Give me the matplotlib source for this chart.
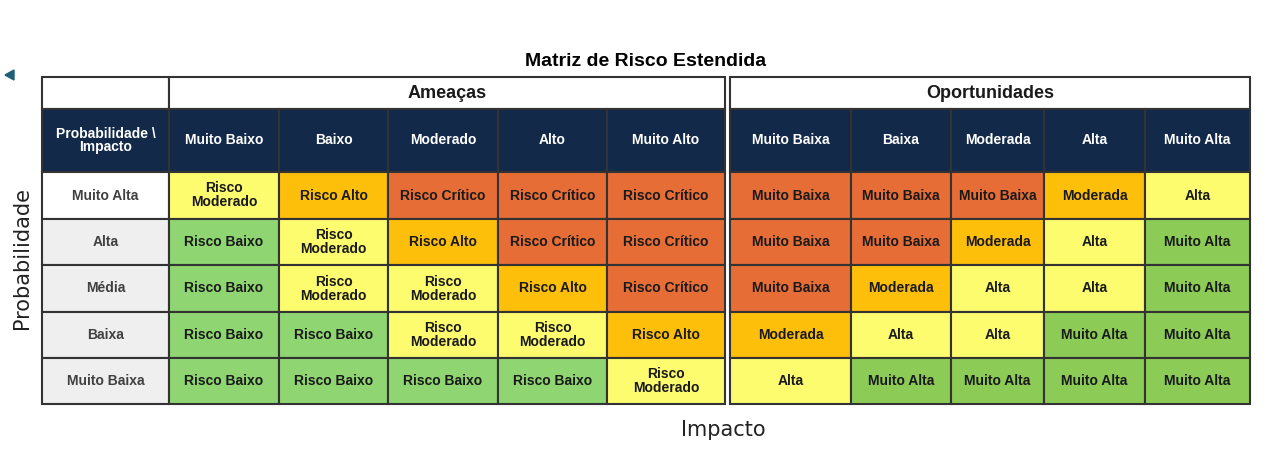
import matplotlib
matplotlib.use("Agg")
import matplotlib.pyplot as plt
from matplotlib.patches import Rectangle, Polygon

title = "Matriz de Risco Estendida"
corner = "Probabilidade \\\nImpacto"
threat_cols = ["Muito Baixo", "Baixo", "Moderado", "Alto", "Muito Alto"]
opp_cols = ["Muito Baixa", "Baixa", "Moderada", "Alta", "Muito Alta"]
rows = ["Muito Alta", "Alta", "Média", "Baixa", "Muito Baixa"]
threats = [
    ["Risco\nModerado", "Risco Alto", "Risco Crítico", "Risco Crítico", "Risco Crítico"],
    ["Risco Baixo", "Risco\nModerado", "Risco Alto", "Risco Crítico", "Risco Crítico"],
    ["Risco Baixo", "Risco\nModerado", "Risco\nModerado", "Risco Alto", "Risco Crítico"],
    ["Risco Baixo", "Risco Baixo", "Risco\nModerado", "Risco\nModerado", "Risco Alto"],
    ["Risco Baixo", "Risco Baixo", "Risco Baixo", "Risco Baixo", "Risco\nModerado"],
]
opps = [
    ["Muito Baixa", "Muito Baixa", "Muito Baixa", "Moderada", "Alta"],
    ["Muito Baixa", "Muito Baixa", "Moderada", "Alta", "Muito Alta"],
    ["Muito Baixa", "Moderada", "Alta", "Alta", "Muito Alta"],
    ["Moderada", "Alta", "Alta", "Muito Alta", "Muito Alta"],
    ["Alta", "Muito Alta", "Muito Alta", "Muito Alta", "Muito Alta"],
]
threat_colors = {"Risco Baixo": "#8fd672", "Risco\nModerado": "#fdfb6e",
                 "Risco Alto": "#fdbf0a", "Risco Crítico": "#e76d37"}
opp_colors = {"Muito Baixa": "#e76d37", "Moderada": "#fdbf0a",
              "Alta": "#fdfb6e", "Muito Alta": "#8ccb55"}

fig = plt.figure(figsize=(12.8, 4.62), dpi=100)
ax = fig.add_axes([0, 0, 1, 1])
ax.set_xlim(0, 1280); ax.set_ylim(462, 0); ax.axis("off")

tx = [169, 279, 388, 498, 607, 725]
ox = [730, 851, 951, 1044, 1145, 1250]
ry = [172, 219, 265, 312, 358, 404]
navy = "#12294a"
edge = "#333333"
fs = 10

def cell(x0, x1, y0, y1, fc, text, color="#1a1a1a", weight="bold", size=fs):
    ax.add_patch(Rectangle((x0, y0), x1 - x0, y1 - y0, facecolor=fc, edgecolor=edge, lw=1.5))
    ax.text((x0 + x1) / 2, (y0 + y1) / 2, text, ha="center", va="center",
            color=color, fontweight=weight, fontsize=size, linespacing=1.0,
            family="Liberation Sans")

# top band
cell(42, 169, 77, 109, "white", "")
cell(169, 725, 77, 109, "white", "Ameaças", size=13)
cell(730, 1250, 77, 109, "white", "Oportunidades", size=13)
# header row
cell(42, 169, 109, 172, navy, corner, color="white")
for i, c in enumerate(threat_cols):
    cell(tx[i], tx[i + 1], 109, 172, navy, c, color="white")
for i, c in enumerate(opp_cols):
    cell(ox[i], ox[i + 1], 109, 172, navy, c, color="white")
for r, name in enumerate(rows):
    y0, y1 = ry[r], ry[r + 1]
    cell(42, 169, y0, y1, "white" if r == 0 else "#efefef", name, color="#404040")
    for i in range(5):
        v = threats[r][i]
        cell(tx[i], tx[i + 1], y0, y1, threat_colors[v], v)
        w = opps[r][i]
        cell(ox[i], ox[i + 1], y0, y1, opp_colors[w], w)

ax.text(646, 61, title, ha="center", va="center", fontsize=14, fontweight="bold", family="Liberation Sans")
ax.text(723, 430, "Impacto", ha="center", va="center", fontsize=15, family="DejaVu Sans", color="#222222")
ax.text(22, 258, "Probabilidade", ha="center", va="center", rotation=90, fontsize=15,
        family="DejaVu Sans", color="#222222")
ax.add_patch(Polygon([[5, 75], [14, 70], [14, 80]], closed=True, color="#1f5f7a"))
fig.savefig("out.png", dpi=100)
